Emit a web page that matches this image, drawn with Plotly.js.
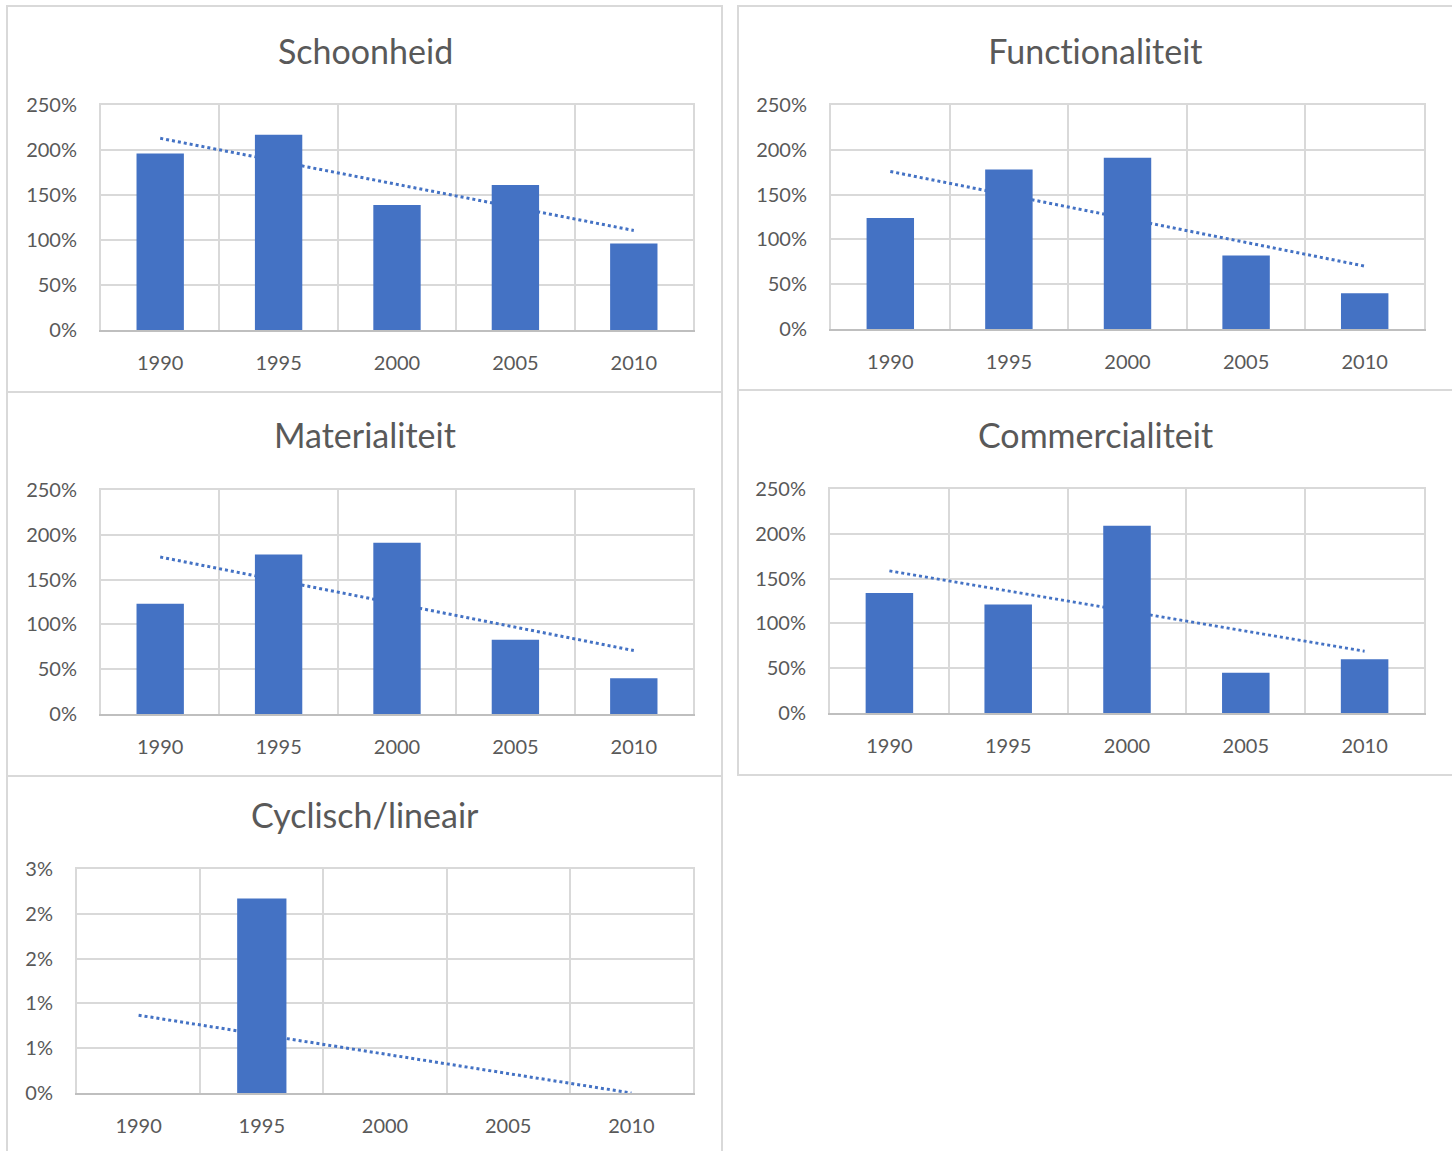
<!DOCTYPE html>
<html>
<head>
<meta charset="utf-8">
<script src="https://cdn.plot.ly/plotly-3.0.1.min.js"></script>
<style>
  html, body { margin: 0; padding: 0; background: #ffffff; }
  #chart { width: 1452px; height: 1151px; }
  #chart text { font-variant-ligatures: none; font-feature-settings: "liga" 0, "clig" 0; }
</style>
</head>
<body>
<div id="chart"></div>
<script>
// ---- Data ----
const years = ["1990", "1995", "2000", "2005", "2010"];
const titles = ["Schoonheid", "Functionaliteit", "Materialiteit", "Commercialiteit", "Cyclisch/lineair"];
const schoonheid = [196, 217, 139, 161, 96];
const functionaliteit = [124, 178, 191, 82, 40];
const materialiteit = [123, 178, 191, 83, 40];
const commercialiteit = [134, 121, 209, 45, 60];
const cyclischLineair = [0, 2.17, 0, 0, 0];
const pctTickVals = [0, 50, 100, 150, 200, 250];
const pctTickText = ["0%", "50%", "100%", "150%", "200%", "250%"];
const smallTickVals = [0, 0.5, 1, 1.5, 2, 2.5];
const smallTickText = ["0%", "1%", "1%", "2%", "2%", "3%"];

const series = [schoonheid, functionaliteit, materialiteit, commercialiteit, cyclischLineair];

// ---- Layout geometry (pixels) ----
const W = 1452, H = 1151;
const plotBoxes = [
  {x0: 101, x1: 693, y0: 105, y1: 330, tx: 365, ty: 50},
  {x0: 831, x1: 1424, y0: 105, y1: 329, tx: 1095, ty: 50},
  {x0: 101, x1: 693, y0: 490, y1: 714, tx: 365, ty: 435},
  {x0: 830, x1: 1424, y0: 489, y1: 713, tx: 1095, ty: 434},
  {x0: 77, x1: 693, y0: 869, y1: 1093, tx: 365, ty: 814}
];
const panelFrames = [
  {x0: 7, x1: 722, y0: 6, y1: 392},
  {x0: 738, x1: 1470, y0: 6, y1: 390},
  {x0: 7, x1: 722, y0: 392, y1: 776},
  {x0: 738, x1: 1470, y0: 390, y1: 775},
  {x0: 7, x1: 722, y0: 776, y1: 1170}
];
const yTicks = [
  [pctTickVals, pctTickText, 250],
  [pctTickVals, pctTickText, 250],
  [pctTickVals, pctTickText, 250],
  [pctTickVals, pctTickText, 250],
  [smallTickVals, smallTickText, 2.5]
];

const BLUE = "#4472C4";
const GRID = "#D9D9D9";
const AXIS = "#BFBFBF";
const TEXT = "#595959";
const FONT = "Lato, 'Liberation Sans', sans-serif";

function px2x(p) { return p / W; }
function px2y(p) { return 1 - p / H; }

// least-squares linear trend (as in a spreadsheet trendline)
function trend(vals) {
  const n = vals.length;
  let sx = 0, sy = 0, sxx = 0, sxy = 0;
  for (let i = 0; i < n; i++) { sx += i; sy += vals[i]; sxx += i * i; sxy += i * vals[i]; }
  const b = (n * sxy - sx * sy) / (n * sxx - sx * sx);
  const a = (sy - b * sx) / n;
  return [a, a + b * (n - 1)];
}

const traces = [];
const layout = {
  width: W, height: H,
  margin: {l: 0, r: 0, t: 0, b: 0},
  paper_bgcolor: "#ffffff",
  plot_bgcolor: "rgba(0,0,0,0)",
  showlegend: false,
  font: {family: FONT, color: TEXT, size: 20},
  bargap: 0.6,
  shapes: [],
  annotations: []
};

for (let i = 0; i < 5; i++) {
  const b = plotBoxes[i];
  const n = i + 1, m = i + 6;
  const xd = [px2x(b.x0), px2x(b.x1)];
  const yd = [px2y(b.y1), px2y(b.y0)];
  const [tv, tt, ymax] = yTicks[i];

  // base axes: grid + trendline (drawn below bars)
  layout["xaxis" + n] = {
    domain: xd, anchor: "y" + n, type: "category",
    categoryorder: "array", categoryarray: years,
    range: [-0.5, 4.5], tickson: "boundaries", ticks: "",
    showgrid: true, gridcolor: GRID, gridwidth: 2,
    showline: true, linecolor: AXIS, linewidth: 2,
    tickfont: {family: FONT, size: 20, color: TEXT},
    ticklabelstandoff: 14, fixedrange: true, zeroline: false
  };
  layout["yaxis" + n] = {
    domain: yd, anchor: "x" + n, range: [0, ymax],
    tickmode: "array", tickvals: tv, ticktext: tt, ticks: "",
    showgrid: true, gridcolor: GRID, gridwidth: 2,
    showline: true, mirror: true, linecolor: GRID, linewidth: 2,
    zeroline: false,
    tickfont: {family: FONT, size: 20, color: TEXT},
    ticklabelstandoff: 18, fixedrange: true
  };
  // overlay axes: bars on top of trendline
  layout["xaxis" + m] = {
    overlaying: "x" + n, anchor: "y" + m, type: "category",
    categoryorder: "array", categoryarray: years,
    range: [-0.5, 4.5], side: "top",
    showgrid: false, showticklabels: false, ticks: "",
    showline: true, linecolor: GRID, linewidth: 2, zeroline: false, fixedrange: true
  };
  layout["yaxis" + m] = {
    overlaying: "y" + n, anchor: "x" + m, range: [0, ymax],
    showgrid: false, showticklabels: false, ticks: "",
    showline: false, zeroline: false, fixedrange: true
  };

  const [t0, t1] = trend(series[i]);
  traces.push({
    type: "scatter", mode: "lines",
    x: [years[0], years[years.length - 1]], y: [t0, t1],
    xaxis: "x" + n, yaxis: "y" + n,
    line: {color: BLUE, width: 3, dash: "3px,3px"},
    hoverinfo: "skip"
  });
  traces.push({
    type: "bar", x: years, y: series[i],
    xaxis: "x" + m, yaxis: "y" + m,
    marker: {color: BLUE, line: {width: 0}},
    hoverinfo: "x+y"
  });

  const f = panelFrames[i];
  layout.shapes.push({
    type: "rect", xref: "paper", yref: "paper", layer: "below",
    x0: px2x(f.x0), x1: px2x(f.x1), y0: px2y(f.y1), y1: px2y(f.y0),
    line: {color: GRID, width: 2}, fillcolor: "rgba(0,0,0,0)"
  });
  layout.annotations.push({
    xref: "paper", yref: "paper", x: px2x(b.tx), y: px2y(b.ty),
    xanchor: "center", yanchor: "middle", showarrow: false,
    text: titles[i], font: {family: FONT, size: 34, color: TEXT}
  });
}

Plotly.newPlot("chart", traces, layout, {staticPlot: true, displayModeBar: false});
</script>
</body>
</html>
